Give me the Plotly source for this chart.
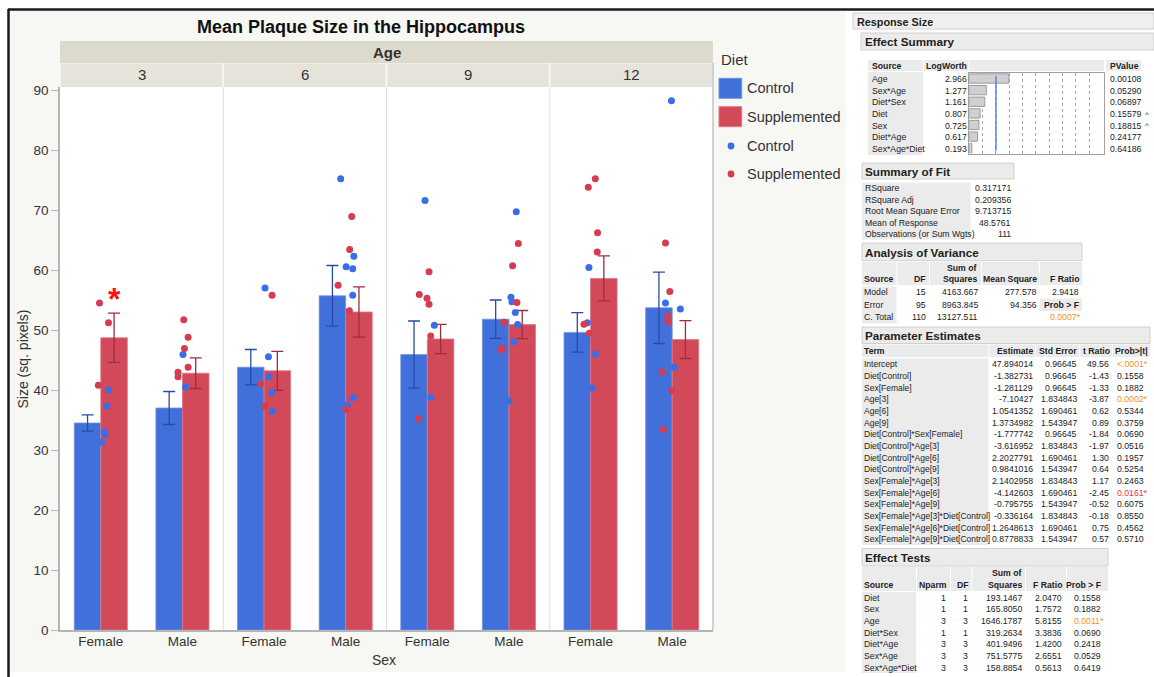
import plotly.graph_objects as go

W, H = 1154, 677
FONT = "Liberation Sans, Arial, Helvetica, sans-serif"

# ---------------- chart data ----------------
AGES = ["3", "6", "9", "12"]
SEXES = ["Female", "Male"]
DIETS = ["Control", "Supplemented"]

# group order: Age 3 F, Age 3 M, Age 6 F, Age 6 M, Age 9 F, Age 9 M, Age 12 F, Age 12 M
control_mean = [34.5, 37.0, 43.8, 55.7, 45.9, 51.8, 49.6, 53.7]
control_se = [1.35, 2.75, 2.95, 5.05, 5.6, 3.2, 3.3, 5.95]
supp_mean = [48.7, 42.8, 43.2, 53.0, 48.5, 50.9, 58.6, 48.4]
supp_se = [4.1, 2.55, 3.25, 4.2, 2.45, 2.35, 3.75, 3.15]

control_points = [
    [40.0, 37.3, 33.0, 32.6, 31.3],
    [45.9, 40.5],
    [57.0, 45.55, 42.2, 39.6, 36.45],
    [75.2, 62.3, 60.55, 60.2, 55.8, 38.7, 37.5],
    [71.6, 50.8, 38.8],
    [69.7, 55.45, 54.7, 52.9, 50.9, 48.05, 38.2],
    [60.4, 51.2, 46.0, 40.3],
    [88.2, 54.5, 53.5, 43.8],
]
supp_points = [
    [54.5, 51.2, 40.8],
    [51.7, 48.8, 46.9, 43.8, 42.95, 42.2],
    [55.8, 41.0, 37.3],
    [68.9, 63.4, 57.45, 53.2, 36.8],
    [59.7, 55.9, 55.3, 54.3, 49.0, 35.2],
    [64.4, 60.7, 54.6, 51.3, 46.9, 46.7],
    [75.2, 73.8, 66.2, 63.0, 50.95, 49.45],
    [64.5, 56.4, 52.3, 51.3, 43.0, 39.9, 33.45],
]
# horizontal jitter of the points (fraction of a category slot)
control_jitter = [
    [0.094, 0.074, 0.04, 0.05, 0.012],
    [0.007, 0.037],
    [0.012, 0.054, 0.061, 0.094, 0.1],
    [-0.061, 0.1, 0.005, 0.086, 0.086, 0.094, 0.021],
    [-0.028, 0.086, 0.045],
    [0.09, 0.025, 0.037, 0.078, 0.107, 0.058, 0.0],
    [-0.02, -0.04, 0.061, 0.021],
    [-0.009, -0.082, 0.1, 0.025],
]
supp_jitter = [
    [-0.016, 0.094, -0.03],
    [0.016, 0.07, 0.025, 0.07, -0.054, -0.054],
    [0.098, -0.044, 0.005],
    [0.074, 0.049, -0.093, 0.045, 0.0],
    [0.021, -0.098, -0.004, 0.021, 0.042, -0.11],
    [0.115, 0.045, 0.098, -0.061, -0.081, -0.098],
    [0.058, -0.028, 0.086, 0.082, -0.081, -0.016],
    [-0.082, -0.029, -0.054, -0.049, -0.123, -0.005, -0.11],
]

# ---------------- report tables ----------------
es_sources = ["Age", "Sex*Age", "Diet*Sex", "Diet", "Sex", "Diet*Age", "Sex*Age*Diet"]
es_logworth = [2.966, 1.277, 1.161, 0.807, 0.725, 0.617, 0.193]
es_pvalue = ["0.00108", "0.05290", "0.06897", "0.15579", "0.18815", "0.24177", "0.64186"]
es_flag = ["", "", "", "^", "^", "", ""]

fit_labels = ["RSquare", "RSquare Adj", "Root Mean Square Error", "Mean of Response",
              "Observations (or Sum Wgts)"]
fit_values = ["0.317171", "0.209356", "9.713715", "48.5761", "111"]

anova_source = ["Model", "Error", "C. Total"]
anova_df = ["15", "95", "110"]
anova_ss = ["4163.667", "8963.845", "13127.511"]
anova_ms = ["277.578", "94.356", ""]
anova_f = ["2.9418", "Prob > F", "0.0007*"]

pe_terms = ["Intercept", "Diet[Control]", "Sex[Female]", "Age[3]", "Age[6]", "Age[9]",
            "Diet[Control]*Sex[Female]", "Diet[Control]*Age[3]", "Diet[Control]*Age[6]",
            "Diet[Control]*Age[9]", "Sex[Female]*Age[3]", "Sex[Female]*Age[6]",
            "Sex[Female]*Age[9]", "Sex[Female]*Age[3]*Diet[Control]",
            "Sex[Female]*Age[6]*Diet[Control]", "Sex[Female]*Age[9]*Diet[Control]"]
pe_estimate = ["47.894014", "-1.382731", "-1.281129", "-7.10427", "1.0541352", "1.3734982",
               "-1.777742", "-3.616952", "2.2027791", "0.9841016", "2.1402958", "-4.142603",
               "-0.795755", "-0.336164", "1.2648613", "0.8778833"]
pe_stderr = ["0.96645", "0.96645", "0.96645", "1.834843", "1.690461", "1.543947",
             "0.96645", "1.834843", "1.690461", "1.543947", "1.834843", "1.690461",
             "1.543947", "1.834843", "1.690461", "1.543947"]
pe_tratio = ["49.56", "-1.43", "-1.33", "-3.87", "0.62", "0.89", "-1.84", "-1.97", "1.30",
             "0.64", "1.17", "-2.45", "-0.52", "-0.18", "0.75", "0.57"]
pe_prob = ["&lt;.0001*", "0.1558", "0.1882", "0.0002*", "0.5344", "0.3759", "0.0690",
           "0.0516", "0.1957", "0.5254", "0.2463", "0.0161*", "0.6075", "0.8550",
           "0.4562", "0.5710"]

et_source = ["Diet", "Sex", "Age", "Diet*Sex", "Diet*Age", "Sex*Age", "Sex*Age*Diet"]
et_nparm = ["1", "1", "3", "1", "3", "3", "3"]
et_df = ["1", "1", "3", "1", "3", "3", "3"]
et_ss = ["193.1467", "165.8050", "1646.1787", "319.2634", "401.9496", "751.5775", "158.8854"]
et_f = ["2.0470", "1.7572", "5.8155", "3.3836", "1.4200", "2.6551", "0.5613"]
et_prob = ["0.1558", "0.1882", "0.0011*", "0.0690", "0.2418", "0.0529", "0.6419"]

# ---------------- styling ----------------
BLUE = "#4270da"
RED = "#d24a5a"
BLUE_PT = "#3a6ee6"
RED_PT = "#d63b50"
ORANGE = "#f0901e"
SIGRED = "#e8344a"
CELL = "#ebebeb"
TXT = "#222222"
TS = 8.7          # report table text size
HS = 11.7         # report section title size

PLOT_L, PLOT_R, PLOT_T, PLOT_B = 60, 713, 87, 630


def fx(px):
    return px / W


def fy(py):
    return 1 - py / H


shapes = []
annotations = []


def rect(x0, y0, x1, y1, fill, line=None, lw=1, layer="below"):
    shapes.append(dict(type="rect", xref="paper", yref="paper",
                       x0=fx(x0), x1=fx(x1), y0=fy(y1), y1=fy(y0),
                       fillcolor=fill, layer=layer,
                       line=dict(width=lw if line else 0, color=line or fill)))


def text(x, y, s, size=TS, bold=False, anchor="left", color=TXT):
    annotations.append(dict(x=fx(x), y=fy(y), xref="paper", yref="paper",
                            text=f"<b>{s}</b>" if bold else s, showarrow=False,
                            xanchor=anchor, yanchor="middle", borderpad=0,
                            font=dict(size=size, color=color, family=FONT)))


fig = go.Figure()

# ---------------- backgrounds and frame ----------------
rect(8, 10, 846, 672, "#f7f7f3")
rect(PLOT_L, PLOT_T, PLOT_R, PLOT_B, "#ffffff")
shapes.append(dict(type="line", xref="paper", yref="paper", x0=fx(8), x1=1,
                   y0=fy(9.5), y1=fy(9.5), line=dict(color="#1a1a1a", width=2.5)))
shapes.append(dict(type="line", xref="paper", yref="paper", x0=fx(8.5), x1=fx(8.5),
                   y0=fy(9), y1=0, line=dict(color="#1a1a1a", width=2.5)))

# ---------------- bars, error bars and points ----------------
n = len(control_mean)
xs = list(range(n))
fig.add_trace(go.Bar(
    x=xs, y=control_mean, width=0.325, offset=-0.325, name="Control",
    marker=dict(color=BLUE, line=dict(color="#6f93e6", width=0.8)),
    error_y=dict(type="data", array=control_se, color="#2a4aa6", thickness=1.3, width=6),
    showlegend=False))
fig.add_trace(go.Bar(
    x=xs, y=supp_mean, width=0.325, offset=0.0, name="Supplemented",
    marker=dict(color=RED, line=dict(color="#e07583", width=0.8)),
    error_y=dict(type="data", array=supp_se, color="#a02c3c", thickness=1.3, width=6),
    showlegend=False))

for pts, jit, col, nm in [(control_points, control_jitter, BLUE_PT, "Control"),
                          (supp_points, supp_jitter, RED_PT, "Supplemented")]:
    px_, py_ = [], []
    for g in range(n):
        for v, j in zip(pts[g], jit[g]):
            px_.append(g + j)
            py_.append(v)
    fig.add_trace(go.Scatter(x=px_, y=py_, mode="markers", name=nm, showlegend=False,
                             marker=dict(color=col, size=7), cliponaxis=False))

# significance marker above Age 3 / Female / Supplemented
annotations.append(dict(x=0.1625, y=55.1, xref="x", yref="y", text="<b>*</b>",
                        showarrow=False, yanchor="middle",
                        font=dict(size=32, color="#ff1010", family=FONT)))

# panel separators and right frame of the plot
for b in [1.5, 3.5, 5.5]:
    shapes.append(dict(type="line", xref="x", yref="paper", x0=b, x1=b,
                       y0=fy(PLOT_B), y1=fy(PLOT_T), line=dict(color="#dedede", width=1),
                       layer="below"))
shapes.append(dict(type="line", xref="paper", yref="paper", x0=fx(PLOT_R), x1=fx(PLOT_R),
                   y0=fy(PLOT_B), y1=fy(63), line=dict(color="#c4c4c4", width=1.5)))

# Age strip and facet label strips
rect(PLOT_L, 41, PLOT_R, 63, "#dcdacc")
for i, age in enumerate(AGES):
    x0 = -0.5 + 2 * i
    shapes.append(dict(type="rect", xref="x", yref="paper", x0=x0 + 0.01, x1=x0 + 1.99,
                       y0=fy(87), y1=fy(63.5), fillcolor="#e6e4da",
                       line=dict(width=0), layer="below"))
    annotations.append(dict(x=x0 + 1, y=fy(75), xref="x", yref="paper", text=age,
                            showarrow=False, yanchor="middle",
                            font=dict(size=15, color="#333", family=FONT)))
text((PLOT_L + PLOT_R) / 2, 52, "Age", size=15, bold=True, anchor="center", color="#333")

# titles
text(361, 27, "Mean Plaque Size in the Hippocampus", size=18, bold=True, anchor="center",
     color="#111")
annotations.append(dict(x=fx(22.5), y=fy(359), xref="paper", yref="paper",
                        text="Size (sq. pixels)", textangle=-90, showarrow=False,
                        xanchor="center", yanchor="middle",
                        font=dict(size=14, color="#333", family=FONT)))
text(384, 660, "Sex", size=14, anchor="center", color="#333")

# legend
text(720, 60, "Diet", size=15, color="#333")
rect(719, 78.3, 741.7, 98.3, BLUE, line="#6f93e6", layer="above")
rect(719, 106.7, 741.7, 126.7, RED, line="#e07583", layer="above")
for cy, col in [(146, BLUE_PT), (174, RED_PT)]:
    shapes.append(dict(type="circle", xref="paper", yref="paper",
                       x0=fx(727.6), x1=fx(734.4), y0=fy(cy + 3.4), y1=fy(cy - 3.4),
                       fillcolor=col, line=dict(width=0)))
for cy, lab in zip([88, 117, 146, 174], DIETS + DIETS):
    text(745.5, cy, lab, size=14.5, color="#333")

# ---------------- report: headers ----------------
rect(853, 13, 1154, 29, "#efefed", line="#d0d0d0")
text(856, 21.5, "Response Size", size=10.8, bold=True)
rect(861, 33, 1154, 50, "#ebebe9", line="#d0d0d0")
text(863.5, 41.5, "Effect Summary", size=HS, bold=True)

# Effect Summary table
rect(868, 60, 923, 71, CELL)
rect(924, 60, 968.5, 71, CELL)
rect(969.5, 60, 1104, 71, CELL)
rect(1106, 60, 1141, 71, CELL)
rect(868, 72, 923, 155, CELL)
text(870.7, 66, "Source", bold=True)
text(967.5, 66, "LogWorth", bold=True, anchor="right")
text(1108.5, 66, "PValue", bold=True)
for i, s in enumerate(es_sources):
    y = 79 + i * 11.67
    text(870.7, y, s)
    text(967.5, y, f"{es_logworth[i]:.3f}", anchor="right")
    text(1108.7, y, es_pvalue[i])
    if es_flag[i]:
        text(1143.5, y, es_flag[i], size=8)

fig.add_trace(go.Bar(x=es_logworth, y=es_sources, orientation="h", width=0.8,
                     xaxis="x2", yaxis="y2", showlegend=False,
                     marker=dict(color="#d0d0d0", line=dict(color="#9a9a9a", width=1))))
shapes.append(dict(type="line", xref="x2", yref="y2 domain", x0=2, x1=2, y0=0.04, y1=0.96,
                   line=dict(color="#4f86f0", width=1.5)))

# Summary of Fit
rect(862, 163, 1014, 179, "#ebebe9", line="#d0d0d0")
text(863.5, 171, "Summary of Fit", size=HS, bold=True)
rect(862, 182.5, 970.5, 239.5, CELL)
for i, (lab, val) in enumerate(zip(fit_labels, fit_values)):
    y = 188 + i * 11.6
    text(863.5, y, lab)
    text(1012, y, val, anchor="right")

# Analysis of Variance
rect(862, 243, 1082, 260.7, "#ebebe9", line="#d0d0d0")
text(863.5, 252, "Analysis of Variance", size=HS, bold=True)
for c0, c1 in [(862, 896.5), (897.5, 929), (930, 981), (982, 1039), (1040, 1082)]:
    rect(c0, 262, c1, 285, CELL)
rect(862, 286.5, 896.5, 323.5, CELL)
text(978, 267.5, "Sum of", bold=True, anchor="right")
text(863, 279, "Source", bold=True)
text(927, 279, "DF", bold=True, anchor="right")
text(978, 279, "Squares", bold=True, anchor="right")
text(1038, 279, "Mean Square", bold=True, anchor="right")
text(1080, 279, "F Ratio", bold=True, anchor="right")
rect(1040, 298.5, 1082, 311, CELL)
for i in range(3):
    y = 292 + i * 12.67
    text(863, y, anova_source[i])
    text(927, y, anova_df[i], anchor="right")
    text(978.5, y, anova_ss[i], anchor="right")
    if anova_ms[i]:
        text(1038, y, anova_ms[i], anchor="right")
    f = anova_f[i]
    if f.endswith("*"):
        text(1081.5, y, f, anchor="right", color=ORANGE)
    elif f.startswith("Prob"):
        text(1080, y, f.replace(">", "&gt;"), bold=True, anchor="right")
    else:
        text(1080, y, f, anchor="right")

# Parameter Estimates
rect(862, 327, 1150, 343.5, "#ebebe9", line="#d0d0d0")
text(863.5, 335, "Parameter Estimates", size=HS, bold=True)
for c0, c1 in [(862, 988.5), (989.5, 1035), (1036, 1079), (1080, 1112), (1113, 1150)]:
    rect(c0, 344.5, c1, 357, CELL)
rect(862, 358.5, 988.5, 545, CELL)
text(863, 350.7, "Term", bold=True)
text(1034, 350.7, "Estimate", bold=True, anchor="right")
text(1077.5, 350.7, "Std Error", bold=True, anchor="right")
text(1110.5, 350.7, "t Ratio", bold=True, anchor="right")
text(1149, 350.7, "Prob&gt;|t|", bold=True, anchor="right")
for i, term in enumerate(pe_terms):
    y = 364.3 + i * 11.67
    text(863, y, term, size=8.5)
    text(1033.5, y, pe_estimate[i], anchor="right")
    text(1077.5, y, pe_stderr[i], anchor="right")
    text(1110, y, pe_tratio[i], anchor="right")
    p = pe_prob[i]
    if p.endswith("*"):
        col = SIGRED if p.startswith("0.01") else ORANGE
        text(1148.5, y, p, anchor="right", color=col)
    else:
        text(1145, y, p, anchor="right")

# Effect Tests
rect(862, 548.5, 1108, 566, "#ebebe9", line="#d0d0d0")
text(863.5, 557, "Effect Tests", size=HS, bold=True)
for c0, c1 in [(862, 916), (917, 950), (951, 971.5), (972.5, 1025), (1026, 1066),
               (1067, 1108)]:
    rect(c0, 567, c1, 591, CELL)
rect(862, 592, 916, 673, CELL)
text(1022.7, 573.3, "Sum of", bold=True, anchor="right")
text(863, 584.5, "Source", bold=True)
text(948, 584.5, "Nparm", bold=True, anchor="right")
text(969.5, 584.5, "DF", bold=True, anchor="right")
text(1022.7, 584.5, "Squares", bold=True, anchor="right")
text(1063.3, 584.5, "F Ratio", bold=True, anchor="right")
text(1102.3, 584.5, "Prob &gt; F", bold=True, anchor="right")
for i, s in enumerate(et_source):
    y = 597.7 + i * 11.67
    text(863, y, s)
    text(946.7, y, et_nparm[i], anchor="right")
    text(969.3, y, et_df[i], anchor="right")
    text(1022.7, y, et_ss[i], anchor="right")
    text(1063.3, y, et_f[i], anchor="right")
    p = et_prob[i]
    if p.endswith("*"):
        text(1105, y, p, anchor="right", color=ORANGE)
    else:
        text(1102.3, y, p, anchor="right")

# ---------------- layout ----------------
fig.update_layout(
    width=W, height=H, autosize=False,
    margin=dict(l=0, r=0, t=0, b=0),
    paper_bgcolor="#ffffff", plot_bgcolor="#ffffff",
    barmode="overlay",
    font=dict(family=FONT, color="#333"),
    shapes=shapes, annotations=annotations,
    xaxis=dict(domain=[fx(PLOT_L), fx(PLOT_R)], range=[-0.5, 7.5],
               tickvals=xs, ticktext=SEXES * 4, ticks="", showgrid=False,
               zeroline=False, showline=True, linecolor="#b4b4b4", linewidth=1.5,
               automargin=False, ticklabelstandoff=-2,
               tickfont=dict(size=13.5, color="#333")),
    yaxis=dict(domain=[fy(PLOT_B), fy(PLOT_T)], range=[0, 90.5], dtick=10, tick0=0,
               ticks="outside", ticklen=7, tickcolor="#b4b4b4", showgrid=False,
               zeroline=False, showline=True, linecolor="#b4b4b4", linewidth=1.5,
               automargin=False,
               tickfont=dict(size=13.5, color="#333")),
    xaxis2=dict(domain=[fx(969.3), fx(1104)], range=[0, 10.1], anchor="y2",
                tickvals=list(range(1, 10)), showticklabels=False, ticks="",
                showgrid=True, gridcolor="#a8a8a8", griddash="dot", gridwidth=1,
                zeroline=False, showline=True, mirror=True, linecolor="#a0a0a0",
                automargin=False),
    yaxis2=dict(domain=[fy(154), fy(72.7)], anchor="x2", type="category",
                categoryarray=es_sources, autorange="reversed",
                showticklabels=False, ticks="", showgrid=False, zeroline=False,
                showline=True, mirror=True, linecolor="#a0a0a0", automargin=False),
)

fig.write_html("out.html")
